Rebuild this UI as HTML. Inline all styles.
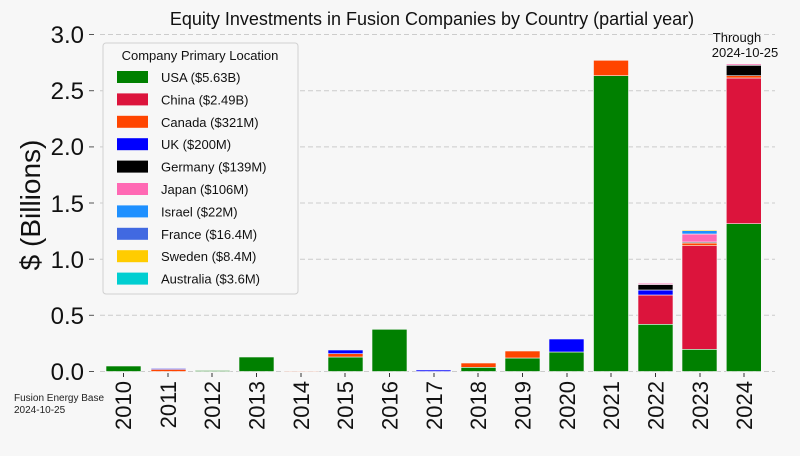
<!DOCTYPE html>
<html><head><meta charset="utf-8"><style>body{margin:0;background:#f7f7f7}svg{display:block}text{font-family:"Liberation Sans",Arial,sans-serif}</style></head><body>
<svg width="800" height="456" viewBox="0 0 800 456" xmlns="http://www.w3.org/2000/svg">
<rect width="800" height="456" fill="#f7f7f7"/>
<g stroke="#cccccc" stroke-dasharray="5,3" stroke-width="1">
<line x1="100" x2="775" y1="315.3" y2="315.3"/>
<line x1="100" x2="775" y1="259.2" y2="259.2"/>
<line x1="100" x2="775" y1="203" y2="203"/>
<line x1="100" x2="775" y1="146.9" y2="146.9"/>
<line x1="100" x2="775" y1="90.7" y2="90.7"/>
<line x1="100" x2="775" y1="34.5" y2="34.5"/>
<line x1="100" x2="775" y1="371.5" y2="371.5"/>
</g>
<g stroke="#555" stroke-width="1">
<line x1="89" x2="94" y1="371.5" y2="371.5"/><line x1="89" x2="94" y1="315.3" y2="315.3"/><line x1="89" x2="94" y1="259.2" y2="259.2"/><line x1="89" x2="94" y1="203" y2="203"/><line x1="89" x2="94" y1="146.9" y2="146.9"/><line x1="89" x2="94" y1="90.7" y2="90.7"/><line x1="89" x2="94" y1="34.5" y2="34.5"/>
</g>
<g font-size="24" text-anchor="end" fill="#111">
<text x="84" y="380">0.0</text><text x="84" y="324">0.5</text><text x="84" y="268">1.0</text><text x="84" y="212">1.5</text><text x="84" y="155">2.0</text><text x="84" y="99">2.5</text><text x="84" y="43">3.0</text>
</g>
<text transform="translate(40,205) rotate(-90)" font-size="28" text-anchor="middle" fill="#111">$ (Billions)</text>
<text x="432" y="25" font-size="18" text-anchor="middle" fill="#111">Equity Investments in Fusion Companies by Country (partial year)</text>
<text x="737" y="42" font-size="13" text-anchor="middle" fill="#111">Through</text>
<text x="745" y="57" font-size="13" text-anchor="middle" fill="#111">2024-10-25</text>
<g stroke="#f7f7f7" stroke-width="0.6">
<rect x="106" y="366" width="35" height="5.5" fill="#008000"/>
<rect x="151" y="369" width="35" height="2.5" fill="#ff4500"/><rect x="151" y="368.5" width="35" height="1" fill="#0000ff"/>
<rect x="195" y="370.5" width="35" height="1" fill="#008000"/>
<rect x="239" y="357" width="35" height="14.5" fill="#008000"/>
<rect x="284" y="370.8" width="35" height="0.7" fill="#ff4500"/>
<rect x="328" y="357" width="35" height="14.5" fill="#008000"/><rect x="328" y="353.7" width="35" height="3.3" fill="#ff4500"/><rect x="328" y="350" width="35" height="3.7" fill="#0000ff"/>
<rect x="372" y="329.3" width="35" height="42.2" fill="#008000"/>
<rect x="416" y="370" width="35" height="1.5" fill="#0000ff"/>
<rect x="461" y="367.3" width="35" height="4.2" fill="#008000"/><rect x="461" y="363" width="35" height="4.3" fill="#ff4500"/>
<rect x="505" y="358" width="35" height="13.5" fill="#008000"/><rect x="505" y="351" width="35" height="7" fill="#ff4500"/>
<rect x="549" y="352" width="35" height="19.5" fill="#008000"/><rect x="549" y="339" width="35" height="13" fill="#0000ff"/>
<rect x="593.5" y="75.7" width="35" height="295.8" fill="#008000"/><rect x="593.5" y="60.3" width="35" height="15.4" fill="#ff4500"/>
<rect x="638" y="324.3" width="35" height="47.2" fill="#008000"/><rect x="638" y="295" width="35" height="29.3" fill="#dc143c"/><rect x="638" y="290" width="35" height="5" fill="#0000ff"/><rect x="638" y="284.5" width="35" height="5.5" fill="#000"/><rect x="638" y="283.3" width="35" height="1.2" fill="#ff69b4"/>
<rect x="682" y="349.3" width="35" height="22.2" fill="#008000"/><rect x="682" y="245.7" width="35" height="103.6" fill="#dc143c"/><rect x="682" y="243" width="35" height="2.7" fill="#ff4500"/><rect x="682" y="242" width="35" height="1" fill="#000"/><rect x="682" y="234" width="35" height="8" fill="#ff69b4"/><rect x="682" y="230.7" width="35" height="3.3" fill="#1e90ff"/><rect x="682" y="229.7" width="35" height="1" fill="#ffcc00"/>
<rect x="726.3" y="223.7" width="35" height="147.8" fill="#008000"/><rect x="726.3" y="78" width="35" height="145.7" fill="#dc143c"/><rect x="726.3" y="75.7" width="35" height="2.3" fill="#ff4500"/><rect x="726.3" y="65.3" width="35" height="10.4" fill="#000"/><rect x="726.3" y="64" width="35" height="1.3" fill="#ff69b4"/>
</g>
<g stroke="#333" stroke-width="1">
<line x1="123.5" x2="123.5" y1="373" y2="377"/><line x1="168" x2="168" y1="373" y2="377"/><line x1="212" x2="212" y1="373" y2="377"/><line x1="256.5" x2="256.5" y1="373" y2="377"/><line x1="301" x2="301" y1="373" y2="377"/><line x1="345" x2="345" y1="373" y2="377"/><line x1="389.5" x2="389.5" y1="373" y2="377"/><line x1="434" x2="434" y1="373" y2="377"/><line x1="478" x2="478" y1="373" y2="377"/><line x1="522.5" x2="522.5" y1="373" y2="377"/><line x1="567" x2="567" y1="373" y2="377"/><line x1="611" x2="611" y1="373" y2="377"/><line x1="655.5" x2="655.5" y1="373" y2="377"/><line x1="700" x2="700" y1="373" y2="377"/><line x1="744" x2="744" y1="373" y2="377"/>
</g>
<g font-size="22" fill="#111" text-anchor="end">
<text transform="translate(131,381) rotate(-90)">2010</text><text transform="translate(176,381) rotate(-90)">2011</text><text transform="translate(220,381) rotate(-90)">2012</text><text transform="translate(264.5,381) rotate(-90)">2013</text><text transform="translate(309,381) rotate(-90)">2014</text><text transform="translate(353,381) rotate(-90)">2015</text><text transform="translate(397.5,381) rotate(-90)">2016</text><text transform="translate(442,381) rotate(-90)">2017</text><text transform="translate(486,381) rotate(-90)">2018</text><text transform="translate(530.5,381) rotate(-90)">2019</text><text transform="translate(575,381) rotate(-90)">2020</text><text transform="translate(619,381) rotate(-90)">2021</text><text transform="translate(663.5,381) rotate(-90)">2022</text><text transform="translate(708,381) rotate(-90)">2023</text><text transform="translate(752,381) rotate(-90)">2024</text>
</g>
<text x="14" y="401" font-size="10" fill="#222">Fusion Energy Base</text>
<text x="14" y="413" font-size="10" fill="#222">2024-10-25</text>
<rect x="103" y="43" width="195" height="251" rx="3" fill="#f7f7f7" stroke="#d0d0d0"/>
<text x="200" y="60" font-size="13" text-anchor="middle" fill="#111">Company Primary Location</text>
<g font-size="13" fill="#111">
<rect x="117" y="71" width="31" height="12" fill="#008000"/><text x="161" y="82">USA ($5.63B)</text>
<rect x="117" y="93.4" width="31" height="12" fill="#dc143c"/><text x="161" y="104.4">China ($2.49B)</text>
<rect x="117" y="115.8" width="31" height="12" fill="#ff4500"/><text x="161" y="126.8">Canada ($321M)</text>
<rect x="117" y="138.2" width="31" height="12" fill="#0000ff"/><text x="161" y="149.2">UK ($200M)</text>
<rect x="117" y="160.6" width="31" height="12" fill="#000000"/><text x="161" y="171.6">Germany ($139M)</text>
<rect x="117" y="183" width="31" height="12" fill="#ff69b4"/><text x="161" y="194">Japan ($106M)</text>
<rect x="117" y="205.4" width="31" height="12" fill="#1e90ff"/><text x="161" y="216.4">Israel ($22M)</text>
<rect x="117" y="227.8" width="31" height="12" fill="#4169e1"/><text x="161" y="238.8">France ($16.4M)</text>
<rect x="117" y="250.2" width="31" height="12" fill="#ffcc00"/><text x="161" y="261.2">Sweden ($8.4M)</text>
<rect x="117" y="272.6" width="31" height="12" fill="#00ced1"/><text x="161" y="283.6">Australia ($3.6M)</text>
</g>
</svg>
</body></html>
